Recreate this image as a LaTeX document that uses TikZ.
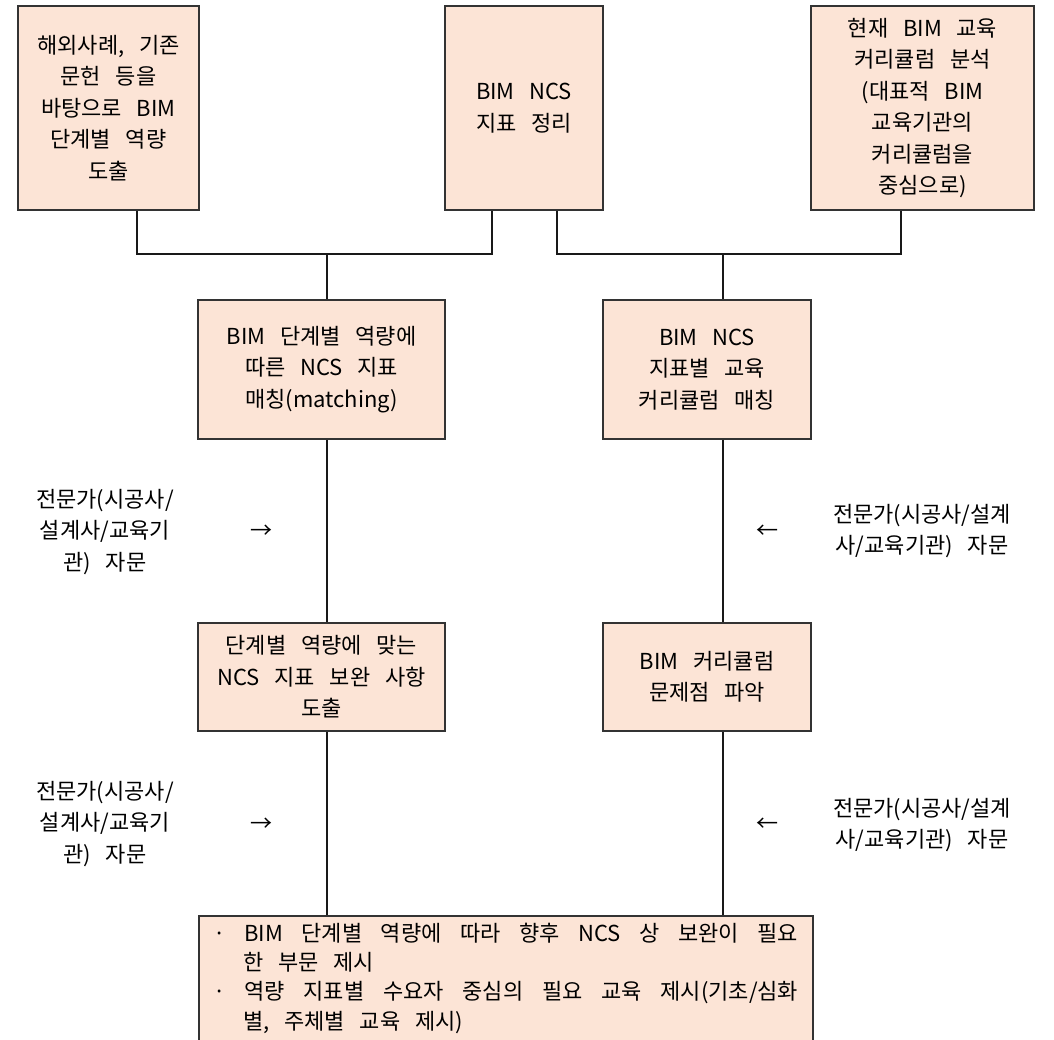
\documentclass[tikz,border=0pt]{standalone}
\usepackage{fontspec}
\setmainfont{Noto Sans CJK KR}[WordSpace=3.0]
\definecolor{boxfill}{HTML}{FCE4D6}
\definecolor{edge}{HTML}{333333}
\begin{document}
\begin{tikzpicture}[x=1pt,y=-1pt,
  every node/.style={font=\fontsize{22}{31.5}\selectfont, text=black},
  box/.style={draw=edge, line width=1.6pt, fill=boxfill, align=center, inner sep=0pt},
  txt/.style={align=center, inner sep=0pt},
  conn/.style={line width=1.3pt, draw=black!90}]
\clip (0,0) rectangle (1054,1039);
\fill[white] (0,0) rectangle (1054,1039);

% boxes
\node[box, minimum width=181pt, minimum height=204pt] (tl) at (108.5,108) {해외사례, 기존\\문헌 등을\\바탕으로 BIM\\단계별 역량\\도출};
\node[box, minimum width=158pt, minimum height=204pt] (tm) at (524,108) {BIM NCS\\지표 정리};
\node[box, minimum width=223pt, minimum height=204pt] (tr) at (922.5,108) {현재 BIM 교육\\커리큘럼 분석\\(대표적 BIM\\교육기관의\\커리큘럼을\\중심으로)};
\node[box, minimum width=247pt, minimum height=139pt] (ml) at (321.5,369.5) {BIM 단계별 역량에\\따른 NCS 지표\\매칭(matching)};
\node[box, minimum width=208pt, minimum height=139pt] (mr) at (707,369.5) {BIM NCS\\지표별 교육\\커리큘럼 매칭};
\node[box, minimum width=247pt, minimum height=108pt] (ll) at (321.5,677) {단계별 역량에 맞는\\NCS 지표 보완 사항\\도출};
\node[box, minimum width=208pt, minimum height=108pt] (lr) at (707,677) {BIM 커리큘럼\\문제점 파악};
\node[box, minimum width=614pt, minimum height=160pt, anchor=north west] (bot) at (198,915) {};

% connectors
\coordinate (j1) at (327,254);
\coordinate (j2) at (723,254);
\draw[conn] ([xshift=28.5pt]tl.south) |- (j1) -| ([xshift=-32pt]tm.south);
\draw[conn] ([xshift=33pt]tm.south) |- (j2) -| ([xshift=-21.5pt]tr.south);
\draw[conn] (j1) -- (j1 |- ml.north);
\draw[conn] (j2) -- (j2 |- mr.north);
\draw[conn] (ml.south -| j1) -- (ll.north -| j1);
\draw[conn] (mr.south -| j2) -- (lr.north -| j2);
\draw[conn] (ll.south -| j1) -- (bot.north -| j1);
\draw[conn] (lr.south -| j2) -- (bot.north -| j2);

% expert labels
\node[txt] (e1) at (105,532) {전문가(시공사/\\설계사/교육기\\관) 자문};
\node[txt] (a1) at (261,532) {→};
\node[txt] (e2) at (922,531) {전문가(시공사/설계\\사/교육기관) 자문};
\node[txt] (a2) at (767,532) {←};
\node[txt] (e3) at (105,824) {전문가(시공사/\\설계사/교육기\\관) 자문};
\node[txt] (a3) at (261,825) {→};
\node[txt] (e4) at (922,825) {전문가(시공사/설계\\사/교육기관) 자문};
\node[txt] (a4) at (767,825) {←};

% bottom box text
\node[anchor=west, inner sep=0pt] (b1) at (213,933) {\hbox to 585pt{·\hfill BIM\hfill 단계별\hfill 역량에\hfill 따라\hfill 향후\hfill NCS\hfill 상\hfill 보완이\hfill 필요}};
\node[anchor=west, inner sep=0pt] (b2) at (243,962) {한 부문 제시};
\node[anchor=west, inner sep=0pt] (b3) at (213,993) {\hbox to 585pt{·\hfill 역량\hfill 지표별\hfill 수요자\hfill 중심의\hfill 필요\hfill 교육\hfill 제시(기초/심화}};
\node[anchor=west, inner sep=0pt] (b4) at (243,1023) {별, 주체별 교육 제시)};
\end{tikzpicture}
\end{document}
